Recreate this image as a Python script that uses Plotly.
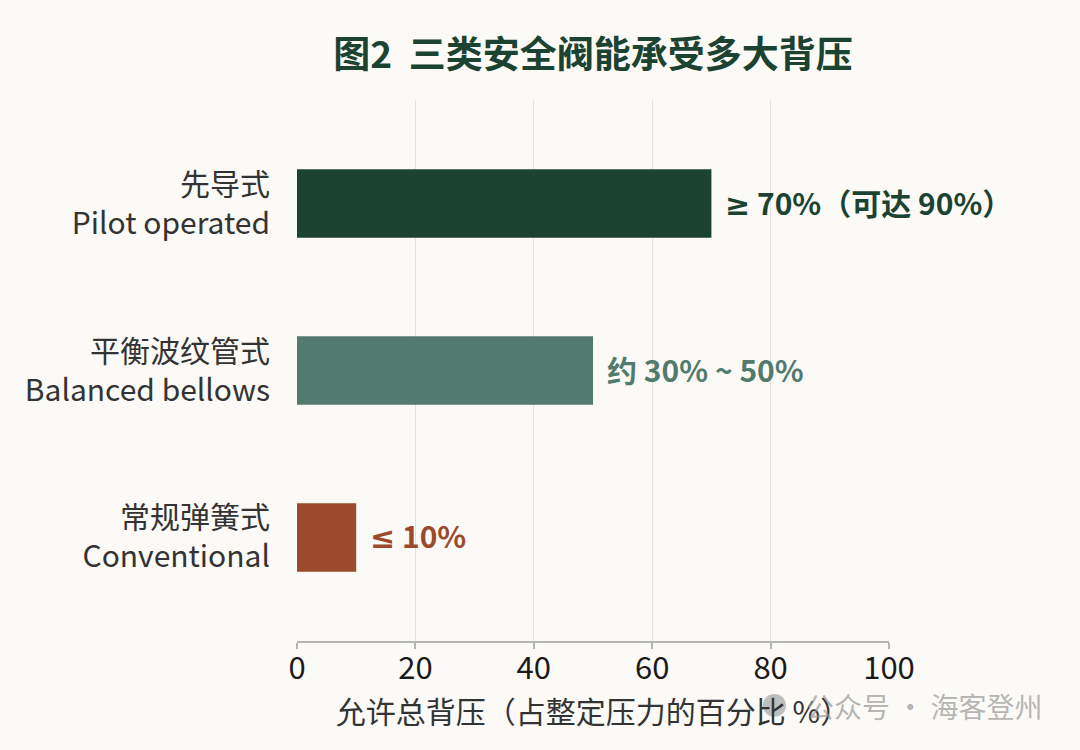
import plotly.graph_objects as go

# data (bottom to top)
categories = ["常规弹簧式<br>Conventional", "平衡波纹管式<br>Balanced bellows", "先导式<br>Pilot operated"]
values = [10, 50, 70]
value_labels = [
    "<span style='font-family:DejaVu Sans'>≤</span> 10%",
    "约 30% ~ 50%",
    "<span style='font-family:DejaVu Sans'>≥</span> 70%（可达 90%）",
]
colors = ["#9b4a2d", "#527a6e", "#1c4331"]
x_ticks = [0, 20, 40, 60, 80, 100]

FONT = "Noto Sans CJK SC"
BG = "#fbfaf6"

fig = go.Figure()

fig.add_trace(go.Bar(
    x=values,
    y=categories,
    orientation="h",
    marker=dict(color=colors, line=dict(width=0)),
    width=0.41,
    hoverinfo="skip",
))

# value labels next to bar ends
for cat, val, lab, col in zip(categories, values, value_labels, colors):
    fig.add_annotation(
        x=val, y=cat, text=lab, showarrow=False,
        xanchor="left", yanchor="middle", xshift=12, yshift=2,
        font=dict(family=FONT, size=30, color=col, weight="bold"),
    )

# watermark (icon + text)
fig.add_shape(
    type="circle", xref="paper", yref="paper",
    x0=0.787, x1=0.826, y0=-0.140, y1=-0.098,
    fillcolor="rgba(140,140,140,0.55)", line=dict(width=0),
)
fig.add_annotation(
    xref="paper", yref="paper", x=1.0, y=-0.12,
    xanchor="right", yanchor="middle", xshift=156,
    text="公众号 · 海客登州", showarrow=False,
    font=dict(family=FONT, size=28, color="rgba(150,150,150,0.7)"),
)

fig.update_layout(
    width=1080, height=750,
    paper_bgcolor=BG, plot_bgcolor=BG,
    margin=dict(l=297, r=191, t=100, b=109),
    showlegend=False,
    title=dict(
        text="图2  三类安全阀能承受多大背压",
        x=0.5, xref="paper", y=0.927, yanchor="middle",
        font=dict(family=FONT, size=37, color="#1c4331", weight="bold"),
    ),
    font=dict(family=FONT, color="#2b2b2b"),
)

fig.update_xaxes(
    range=[0, 100], tickvals=x_ticks,
    showgrid=True, gridcolor="#e4e1dc", gridwidth=1,
    zeroline=False,
    showline=True, linecolor="#b5b5b5", linewidth=2,
    ticks="outside", ticklen=6, tickcolor="#b5b5b5", tickwidth=1.5,
    ticklabelstandoff=-7,
    tickfont=dict(family=FONT, size=31, color="#1a1a1a"),
    title=dict(text="允许总背压（占整定压力的百分比 %）", standoff=0,
               font=dict(family=FONT, size=30, color="#333333")),
)

fig.update_yaxes(
    range=[-0.62, 2.62],
    showgrid=False, zeroline=False, showline=False,
    ticks="", ticklabelstandoff=26,
    tickfont=dict(family=FONT, size=30, color="#333333"),
)

fig.write_html(
    "out.html",
    config={"displayModeBar": False},
    post_script="document.body.style.margin='0';document.body.style.background='#fbfaf6';",
)
